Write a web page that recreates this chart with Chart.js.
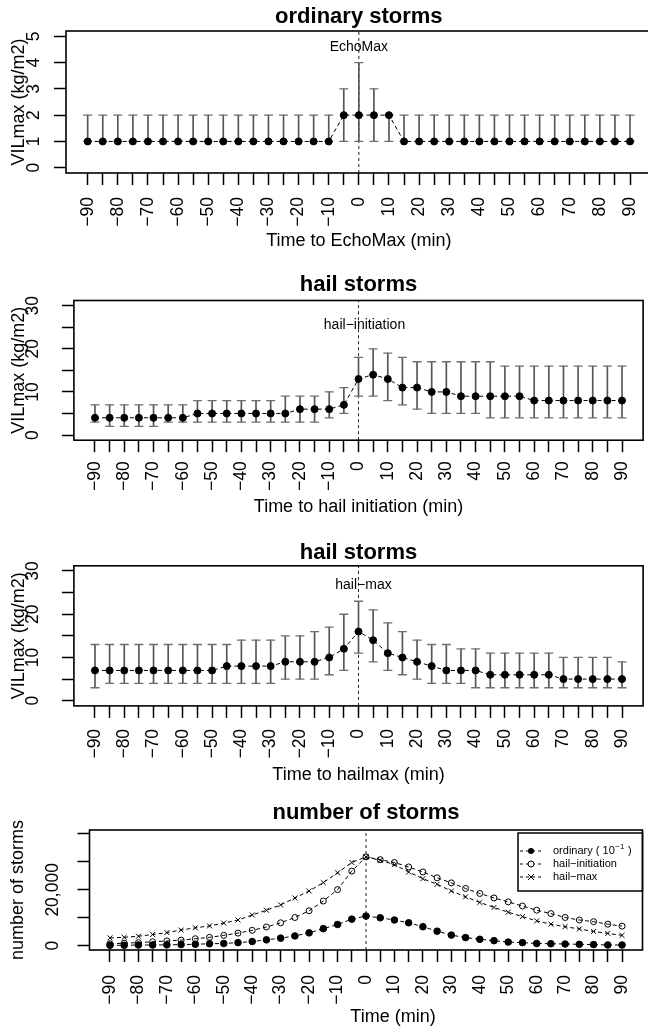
<!DOCTYPE html>
<html>
<head>
<meta charset="utf-8">
<script src="https://cdn.jsdelivr.net/npm/chart.js@4.4.1/dist/chart.umd.min.js"></script>
<style>
  body { margin: 0; background: #fff; overflow: hidden; width: 648px; height: 1035px; position: relative; }
  canvas { position: absolute; left: 0; }
</style>
</head>
<body>
<canvas id="p1"></canvas>
<canvas id="p2"></canvas>
<canvas id="p3"></canvas>
<canvas id="p4"></canvas>
<script>
// time axis (min)
const times = [-90,-85,-80,-75,-70,-65,-60,-55,-50,-45,-40,-35,-30,-25,-20,-15,-10,-5,
  0,5,10,15,20,25,30,35,40,45,50,55,60,65,70,75,80,85,90];
const xTickLabels = ['−90','','−80','','−70','','−60','','−50','','−40','','−30','','−20','','−10','',
  '0','','10','','20','','30','','40','','50','','60','','70','','80','','90'];

// ordinary storms, time to EchoMax
const ordMean = [1,1,1,1,1,1,1,1,1,1,1,1,1,1,1,1,1,2,2,2,2,1,1,1,1,1,1,1,1,1,1,1,1,1,1,1,1];
const ordLow  = [1,1,1,1,1,1,1,1,1,1,1,1,1,1,1,1,1,1,1,1,1,1,1,1,1,1,1,1,1,1,1,1,1,1,1,1,1];
const ordHigh = [2,2,2,2,2,2,2,2,2,2,2,2,2,2,2,2,2,3,4,3,2,2,2,2,2,2,2,2,2,2,2,2,2,2,2,2,2];

// hail storms, time to hail initiation
const hiMean = [4,4,4,4,4,4,4,5,5,5,5,5,5,5,6,6,6,7,13,14,13,11,11,10,10,9,9,9,9,9,8,8,8,8,8,8,8];
const hiLow  = [3,2,2,2,2,3,3,3,3,3,3,3,3,3,3,3,4,5,9,9,8,7,6,5,5,5,5,4,4,4,4,4,4,4,4,4,4];
const hiHigh = [7,7,7,7,7,7,7,8,8,8,8,8,8,9,9,9,10,11,18,20,19,18,17,17,17,17,17,17,16,16,16,16,16,16,16,16,16];

// hail storms, time to hailmax
const hmMean = [7,7,7,7,7,7,7,7,7,8,8,8,8,9,9,9,10,12,16,14,11,10,9,8,7,7,7,6,6,6,6,6,5,5,5,5,5];
const hmLow  = [3,4,4,4,4,4,4,4,4,4,4,4,4,5,5,5,6,7,11,9,7,6,5,4,4,4,3,3,3,3,3,3,3,3,3,3,3];
const hmHigh = [13,13,13,13,13,13,13,13,13,13,14,14,14,15,15,16,17,20,23,21,18,16,14,13,13,12,12,11,11,11,11,11,10,10,10,10,9];

// number of storms
const ordCount = [150,150,250,250,300,400,500,700,800,1100,1500,2100,2700,3500,4600,6100,7600,9500,
  10600,10000,9200,8200,6800,5200,3800,2900,2300,1800,1300,1100,800,700,600,500,400,250,250];
const hiCount = [700,900,1100,1400,1700,2000,2500,3000,3700,4500,5500,6700,8200,10100,12500,16000,20100,26700,
  31800,30800,29800,28200,26400,24300,22500,20500,18700,17100,15700,14200,12700,11500,10100,9200,8600,7700,7000];
const hmCount = [2800,3000,3400,4000,4700,5600,6400,7100,8100,9200,11000,12700,14600,17100,19600,22600,26100,29800,
  31800,30600,29000,26400,24000,22000,19600,17500,15500,13700,12000,10400,8900,7700,6800,6000,5100,4400,3700];

// y ticks
const vilTicks1 = [0,1,2,3,4,5];
const vilLabels1 = ['0','1','2','3','4','5'];
const vilTicks2 = [0,5,10,15,20,25,30];
const vilLabels2 = ['0','','10','','20','','30'];
const countTicks = [0,10000,20000,30000,40000];
const countLabels = ['0','','20,000','',''];

const FONT = "'Liberation Sans', Arial, Helvetica, sans-serif";
const W = 660;

const pts = (ys) => times.map((t, i) => ({ x: t, y: ys[i] }));

function errorSets(mean, low, high) {
  return [
    { type: 'line', data: pts(mean), borderColor: '#000', borderWidth: 1, borderDash: [4, 3],
      pointRadius: 3.5, pointBackgroundColor: '#000', pointBorderColor: '#000', pointBorderWidth: 1 },
    { type: 'line', data: pts(high), showLine: false, pointStyle: 'line', pointRadius: 4.5,
      pointBorderColor: '#6e6e6e', pointBorderWidth: 1.3 },
    { type: 'line', data: pts(low), showLine: false, pointStyle: 'line', pointRadius: 4.5,
      pointBorderColor: '#6e6e6e', pointBorderWidth: 1.3 },
    { type: 'bar', data: times.map((t, i) => ({ x: t, y: [low[i], high[i]] })),
      backgroundColor: '#555', borderWidth: 0, barThickness: 1 }
  ];
}

function zeroLine(y0, y1) {
  return { type: 'line', data: [{ x: 0, y: y0 }, { x: 0, y: y1 }], borderColor: '#222',
    borderWidth: 1, borderDash: [3, 3], pointRadius: 0 };
}

function framePlugin(p) {
  return {
    id: 'frame',
    afterDraw(chart) {
      const ctx = chart.ctx, a = chart.chartArea, ys = chart.scales.y, xs = chart.scales.x;
      const off = p.top;
      ctx.save();
      ctx.strokeStyle = '#000';
      ctx.lineWidth = 1.6;
      ctx.strokeRect(a.left, a.top, a.right - a.left, a.bottom - a.top);
      ctx.fillStyle = '#000';
      ctx.textAlign = 'center';
      ctx.textBaseline = 'middle';
      const cx = (a.left + a.right) / 2;
      ctx.font = 'bold 22px ' + FONT;
      ctx.fillText(p.title, cx, p.titleY - off);
      ctx.font = '18px ' + FONT;
      ctx.fillText(p.xTitle, p.xTitleX || cx, p.xTitleY - off);
      ctx.save();
      ctx.translate(p.yTitleX, (a.top + a.bottom) / 2);
      ctx.rotate(-Math.PI / 2);
      ctx.fillText(p.yTitle, 0, 0);
      ctx.restore();
      ctx.font = '17.5px ' + FONT;
      p.yTicks.forEach((v, i) => {
        if (!p.yLabels[i]) return;
        ctx.save();
        ctx.translate(p.yLabelX, ys.getPixelForValue(v));
        ctx.rotate(-Math.PI / 2);
        ctx.fillText(p.yLabels[i], 0, 0);
        ctx.restore();
      });
      if (p.note) {
        ctx.font = '14px ' + FONT;
        ctx.fillText(p.note, xs.getPixelForValue(0) + (p.noteDx || 0), ys.getPixelForValue(p.noteY));
      }
      if (p.legend) p.legend(ctx, a);
      ctx.restore();
    }
  };
}

function makePanel(p) {
  const cv = document.getElementById(p.id);
  cv.width = W; cv.height = p.height;
  cv.style.top = p.top + 'px';
  const a = p.area;
  const below = p.top + p.height - a.b;
  return new Chart(cv, {
    type: 'line',
    data: { datasets: p.datasets },
    options: {
      responsive: false, animation: false, devicePixelRatio: 1,
      layout: { padding: { left: a.l, right: W - a.r, top: a.t - p.top, bottom: 0 } },
      plugins: { legend: { display: false }, tooltip: { enabled: false } },
      scales: {
        x: {
          type: 'linear', min: p.xRange[0], max: p.xRange[1], offset: false,
          border: { display: false },
          grid: { drawOnChartArea: false, drawTicks: true, tickLength: 12, tickWidth: 1.5, tickColor: '#000', offset: false },
          afterBuildTicks: s => { s.ticks = times.map(v => ({ value: v })); },
          afterFit: s => { s.height = below; s.paddingLeft = 0; s.paddingRight = 0; },
          ticks: { autoSkip: false, minRotation: 90, maxRotation: 90, padding: p.xPad, color: '#000',
            font: { family: FONT, size: 17.5 }, callback: (v, i) => xTickLabels[i] }
        },
        y: {
          type: 'linear', min: p.yRange[0], max: p.yRange[1],
          border: { display: false },
          grid: { drawOnChartArea: false, drawTicks: true, tickLength: 12, tickWidth: 1.5, tickColor: '#000' },
          afterBuildTicks: s => { s.ticks = p.yTicks.map(v => ({ value: v })); },
          afterFit: s => { s.width = 0; s.paddingTop = 0; s.paddingBottom = 0; },
          ticks: { display: false }
        }
      }
    },
    plugins: [framePlugin(p)]
  });
}

function countLegend(ctx, a) {
  const l = 518, t = a.top + 3, r = a.right, b = a.top + 61;
  ctx.lineWidth = 1.5;
  ctx.strokeRect(l, t, r - l, b - t);
  const rows = ['ordinary ( 10', 'hail−initiation', 'hail−max'];
  rows.forEach((txt, i) => {
    const y = a.top + 21 + i * 13;
    ctx.lineWidth = 1;
    ctx.setLineDash([3, 3]);
    ctx.beginPath(); ctx.moveTo(l + 2, y); ctx.lineTo(l + 24, y); ctx.stroke();
    ctx.setLineDash([]);
    const px = l + 13;
    ctx.beginPath();
    if (i === 0) { ctx.fillStyle = '#000'; ctx.arc(px, y, 3, 0, Math.PI * 2); ctx.fill(); }
    else if (i === 1) { ctx.fillStyle = '#fff'; ctx.arc(px, y, 3, 0, Math.PI * 2); ctx.fill(); ctx.stroke(); }
    else { ctx.moveTo(px - 3, y - 3); ctx.lineTo(px + 3, y + 3); ctx.moveTo(px - 3, y + 3); ctx.lineTo(px + 3, y - 3); ctx.stroke(); }
    ctx.fillStyle = '#000';
    ctx.textAlign = 'left';
    ctx.font = '11px ' + FONT;
    ctx.fillText(txt, l + 35, y);
    if (i === 0) {
      let x = l + 35 + ctx.measureText(txt).width;
      ctx.font = '8px ' + FONT;
      ctx.fillText('−1', x + 0.5, y - 4);
      x += ctx.measureText('−1').width + 1;
      ctx.font = '11px ' + FONT;
      ctx.fillText(' )', x, y);
    }
  });
}

makePanel({
  id: 'p1', top: 0, height: 262,
  area: { l: 66, r: 651.7, t: 31, b: 173 },
  xRange: [-97.2, 97.2], yRange: [-0.2, 5.2],
  yTicks: vilTicks1, yLabels: vilLabels1, yLabelX: 34, xPad: 12,
  title: 'ordinary storms', titleY: 17,
  xTitle: 'Time to EchoMax (min)', xTitleY: 241,
  yTitle: 'VILmax (kg/m2)', yTitleX: 19,
  note: 'EchoMax', noteY: 4.6,
  datasets: [...errorSets(ordMean, ordLow, ordHigh), zeroLine(-0.2, 5.2)]
});

makePanel({
  id: 'p2', top: 262, height: 266,
  area: { l: 73.9, r: 643.1, t: 300.5, b: 440.2 },
  xRange: [-97.2, 97.2], yRange: [-1.2, 31.2],
  yTicks: vilTicks2, yLabels: vilLabels2, yLabelX: 33.5, xPad: 9,
  title: 'hail storms', titleY: 285,
  xTitle: 'Time to hail initiation (min)', xTitleY: 507,
  yTitle: 'VILmax (kg/m2)', yTitleX: 19.5,
  note: 'hail−initiation', noteY: 25.5, noteDx: 6,
  datasets: [...errorSets(hiMean, hiLow, hiHigh), zeroLine(-1.2, 31.2)]
});

makePanel({
  id: 'p3', top: 528, height: 262,
  area: { l: 73.9, r: 643.1, t: 565.8, b: 705.9 },
  xRange: [-97.2, 97.2], yRange: [-1.2, 31.2],
  yTicks: vilTicks2, yLabels: vilLabels2, yLabelX: 33.5, xPad: 11,
  title: 'hail storms', titleY: 553,
  xTitle: 'Time to hailmax (min)', xTitleY: 775,
  yTitle: 'VILmax (kg/m2)', yTitleX: 19.5,
  note: 'hail−max', noteY: 26.8, noteDx: 5,
  datasets: [...errorSets(hmMean, hmLow, hmHigh), zeroLine(-1.2, 31.2)]
});

makePanel({
  id: 'p4', top: 790, height: 245,
  area: { l: 89.5, r: 642.5, t: 830, b: 950 },
  xRange: [-97.2, 97.2], yRange: [-1540, 41430],
  yTicks: countTicks, yLabels: countLabels, yLabelX: 53.5, xPad: 13,
  title: 'number of storms', titleY: 813,
  xTitle: 'Time (min)', xTitleX: 393, xTitleY: 1017,
  yTitle: 'number of storms', yTitleX: 18.5,
  legend: countLegend,
  datasets: [
    { type: 'line', data: pts(ordCount), borderColor: '#000', borderWidth: 1, borderDash: [4, 3],
      pointRadius: 3.3, pointBackgroundColor: '#000', pointBorderColor: '#000' },
    { type: 'line', data: pts(hiCount), borderColor: '#000', borderWidth: 1, borderDash: [4, 3],
      pointRadius: 3, pointBackgroundColor: 'rgba(0,0,0,0)', pointBorderColor: '#000', pointBorderWidth: 1 },
    { type: 'line', data: pts(hmCount), borderColor: '#000', borderWidth: 1, borderDash: [4, 3],
      pointStyle: 'crossRot', pointRadius: 3.5, pointBorderColor: '#000', pointBorderWidth: 1 },
    zeroLine(-1540, 41430)
  ]
});
</script>
</body>
</html>
